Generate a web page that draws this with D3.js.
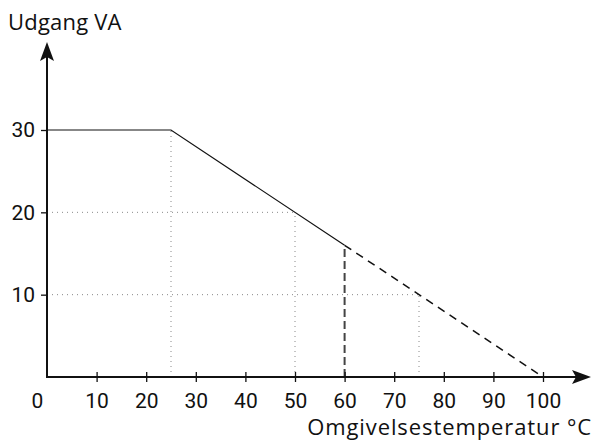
<!DOCTYPE html>
<html>
<head>
<meta charset="utf-8">
<script src="https://cdn.jsdelivr.net/npm/d3@7"></script>
<style>
  body { margin: 0; background: #fff; }
  text { fill: #111; }
  .tick text { font-family: Roboto, "Liberation Sans", sans-serif; font-weight: 400; }
  .label { font-family: "Open Sans", "DejaVu Sans", sans-serif; font-weight: 400; }
</style>
</head>
<body>
<div id="chart"></div>
<script>
const width = 596;
const height = 442;

// data
const xTicks = [0, 10, 20, 30, 40, 50, 60, 70, 80, 90, 100];
const yTicks = [10, 20, 30];
const solidTemp = [0, 25, 60];
const solidVA = [30, 30, 16];
const dashTemp = [60, 100];
const dashVA = [16, 0];
// dotted guide lines: [temp, VA] reference points
const guideTemp = [25, 50, 75];
const guideVA = [30, 20, 10];

const xScale = d3.scaleLinear().domain([0, 100]).range([47, 543]);
const yScale = d3.scaleLinear().domain([0, 30]).range([377, 130]);

const svg = d3.select('#chart')
  .append('svg')
  .attr('width', width)
  .attr('height', height);

// dotted guides
guideTemp.forEach((t, i) => {
  const v = guideVA[i];
  svg.append('line')
    .attr('x1', xScale(t)).attr('x2', xScale(t))
    .attr('y1', yScale(0)).attr('y2', yScale(v))
    .attr('stroke', '#888').attr('stroke-width', 1)
    .attr('stroke-dasharray', '1,4');
  if (t !== 25) {
    svg.append('line')
      .attr('x1', xScale(0)).attr('x2', xScale(t))
      .attr('y1', yScale(v)).attr('y2', yScale(v))
      .attr('stroke', '#888').attr('stroke-width', 1)
      .attr('stroke-dasharray', '1,4');
  }
});

// vertical dashed at 60
svg.append('line')
  .attr('x1', xScale(60)).attr('x2', xScale(60))
  .attr('y1', yScale(0)).attr('y2', yScale(16))
  .attr('stroke', '#444').attr('stroke-width', 2)
  .attr('stroke-dasharray', '8,4');

const line = d3.line()
  .x(d => xScale(d[0]))
  .y(d => yScale(d[1]));

svg.append('path')
  .datum(solidTemp.map((t, i) => [t, solidVA[i]]))
  .attr('d', line)
  .attr('fill', 'none')
  .attr('stroke', '#111')
  .attr('stroke-width', 1.2);

svg.append('path')
  .datum(dashTemp.map((t, i) => [t, dashVA[i]]))
  .attr('d', line)
  .attr('fill', 'none')
  .attr('stroke', '#111')
  .attr('stroke-width', 1.5)
  .attr('stroke-dasharray', '8,6');

// x axis
const xAxis = d3.axisBottom(xScale)
  .tickValues(xTicks)
  .tickSize(5)
  .tickPadding(11);

const gx = svg.append('g')
  .attr('transform', `translate(0,${yScale(0)})`)
  .call(xAxis);
gx.select('.domain').remove();
gx.selectAll('.tick line')
  .attr('y1', -5)
  .attr('stroke', '#111')
  .attr('stroke-width', 1.3);
gx.selectAll('.tick text')
  .style('font-size', '21px')
  .attr('fill', '#111');
gx.selectAll('.tick').filter(d => d === 0).select('line').remove();
gx.selectAll('.tick').filter(d => d === 0).select('text').attr('x', -10);

// y axis
const yAxis = d3.axisLeft(yScale)
  .tickValues(yTicks)
  .tickSize(6)
  .tickPadding(6);

const gy = svg.append('g')
  .attr('transform', `translate(${xScale(0)},0)`)
  .call(yAxis);
gy.select('.domain').remove();
gy.selectAll('.tick line')
  .attr('stroke', '#111')
  .attr('stroke-width', 1.3);
gy.selectAll('.tick text')
  .style('font-size', '21px')
  .attr('fill', '#111');

// axis lines with arrows
svg.append('line')
  .attr('x1', xScale(0)).attr('x2', 578)
  .attr('y1', yScale(0)).attr('y2', yScale(0))
  .attr('stroke', '#111').attr('stroke-width', 2);
svg.append('path')
  .attr('d', `M591,${yScale(0)} L572,${yScale(0) - 7} L576,${yScale(0)} L572,${yScale(0) + 7} Z`)
  .attr('fill', '#111');

svg.append('line')
  .attr('x1', xScale(0)).attr('x2', xScale(0))
  .attr('y1', yScale(0) + 1).attr('y2', 56)
  .attr('stroke', '#111').attr('stroke-width', 2);
svg.append('path')
  .attr('d', `M${xScale(0)},42 L${xScale(0) - 7},61 L${xScale(0)},57 L${xScale(0) + 7},61 Z`)
  .attr('fill', '#111');

// labels
svg.append('text')
  .attr('class', 'label')
  .attr('x', 8)
  .attr('y', 30)
  .style('font-size', '22px')
  .style('letter-spacing', '0.2px')
  .text('Udgang VA');

svg.append('text')
  .attr('class', 'label')
  .attr('x', 592)
  .attr('y', 435)
  .attr('text-anchor', 'end')
  .style('font-size', '22px')
  .style('letter-spacing', '0.9px')
  .text('Omgivelsestemperatur °C');
</script>
</body>
</html>
